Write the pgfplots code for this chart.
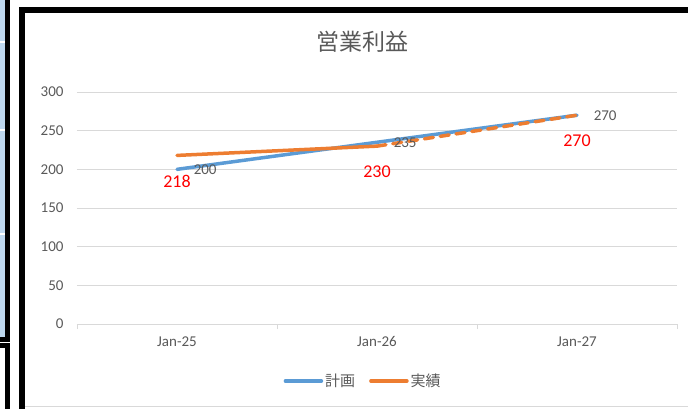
\documentclass[border=0pt]{standalone}
\usepackage{fontspec}
\setmainfont{Carlito}
\newfontfamily\cjk{Noto Sans CJK JP}
\usepackage{pgfplots}
\pgfplotsset{compat=1.18}
\definecolor{planblue}{HTML}{5B9BD5}
\definecolor{actorange}{HTML}{ED7D31}
\definecolor{txtgrey}{HTML}{595959}
\definecolor{gridgrey}{HTML}{D9D9D9}
\definecolor{panelblue}{HTML}{BDD7EE}

\begin{document}
\begin{tikzpicture}
\useasboundingbox (0pt,0pt) rectangle (688pt,408pt);
\clip (0pt,0pt) rectangle (688pt,408pt);
% bits of the neighbouring panels and the chart frame
\begin{scope}[x=1pt,y=1pt]
  \fill[panelblue] (0,408) rectangle (7,70);
  \foreach \yy in {366,278,174} \draw[white,line width=1.5pt] (0,\yy) -- (6,\yy);
  \draw[line width=5pt] (7.5,415) -- (7.5,69) -- (-5,69);
  \draw[line width=5pt] (-5,63) -- (7.5,63) -- (7.5,-10);
  \draw[gridgrey] (25,2) -- (688,2);
  \draw[line width=6pt] (21.5,-20) -- (21.5,398) -- (720,398);
\end{scope}

\begin{axis}[
  at={(77pt,84pt)}, anchor=south west,
  scale only axis, width=600pt, height=232pt,
  xmin=-0.5, xmax=2.5, ymin=0, ymax=300,
  xtick={0,1,2}, xticklabels={Jan-25,Jan-26,Jan-27},
  minor xtick={-0.5,0.5,1.5,2.5},
  ytick={0,50,...,300},
  axis x line*=bottom, axis y line*=left,
  x axis line style={gridgrey, line width=0.8pt, -},
  y axis line style={draw=none},
  ymajorgrids, grid style={gridgrey, line width=0.8pt},
  major tick length=0pt, minor tick length=5pt, tick align=outside,
  minor tick style={gridgrey, line width=0.8pt},
  /pgf/number format/assume math mode=true,
  tick label style={font=\fontsize{15}{18}\selectfont, text=txtgrey},
  xticklabel style={yshift=-9pt},
  yticklabel style={xshift=-10pt},
  title={\cjk 営業利益},
  title style={at={(0.475,1.19)}, anchor=center, font=\fontsize{23}{23}\selectfont, text=txtgrey},
  legend style={at={(0.477,-0.2457)}, anchor=center, draw=none, legend columns=2,
    font=\cjk\fontsize{15}{18}\selectfont, text=txtgrey,
    /tikz/every even column/.append style={column sep=12pt}},
  legend image code/.code={\draw[#1, line width=3.5pt, line cap=round, solid] (0pt,0pt) -- (36pt,0pt);},
]
\addplot[planblue, line width=3.5pt, line cap=round, nodes near coords, point meta=y,
  nodes near coords style={anchor=west, xshift=15pt, inner sep=0pt, text=txtgrey, font=\fontsize{15}{18}\selectfont}]
  coordinates {(0,200) (1,235) (2,270)};
\addlegendentry{計画}
\addplot[actorange, line width=3.5pt, line cap=round] coordinates {(0,218) (1,230)};
\addlegendentry{実績}
\addplot[actorange, line width=3.5pt, line cap=round, dash pattern=on 9pt off 7pt, forget plot]
  coordinates {(1,230) (2,270)};
\addplot[draw=none, forget plot, nodes near coords, point meta=y,
  nodes near coords style={anchor=center, yshift=-26pt, text=red, font=\fontsize{18}{18}\selectfont}]
  coordinates {(0,218) (1,230) (2,270)};
\end{axis}
\end{tikzpicture}
\end{document}
